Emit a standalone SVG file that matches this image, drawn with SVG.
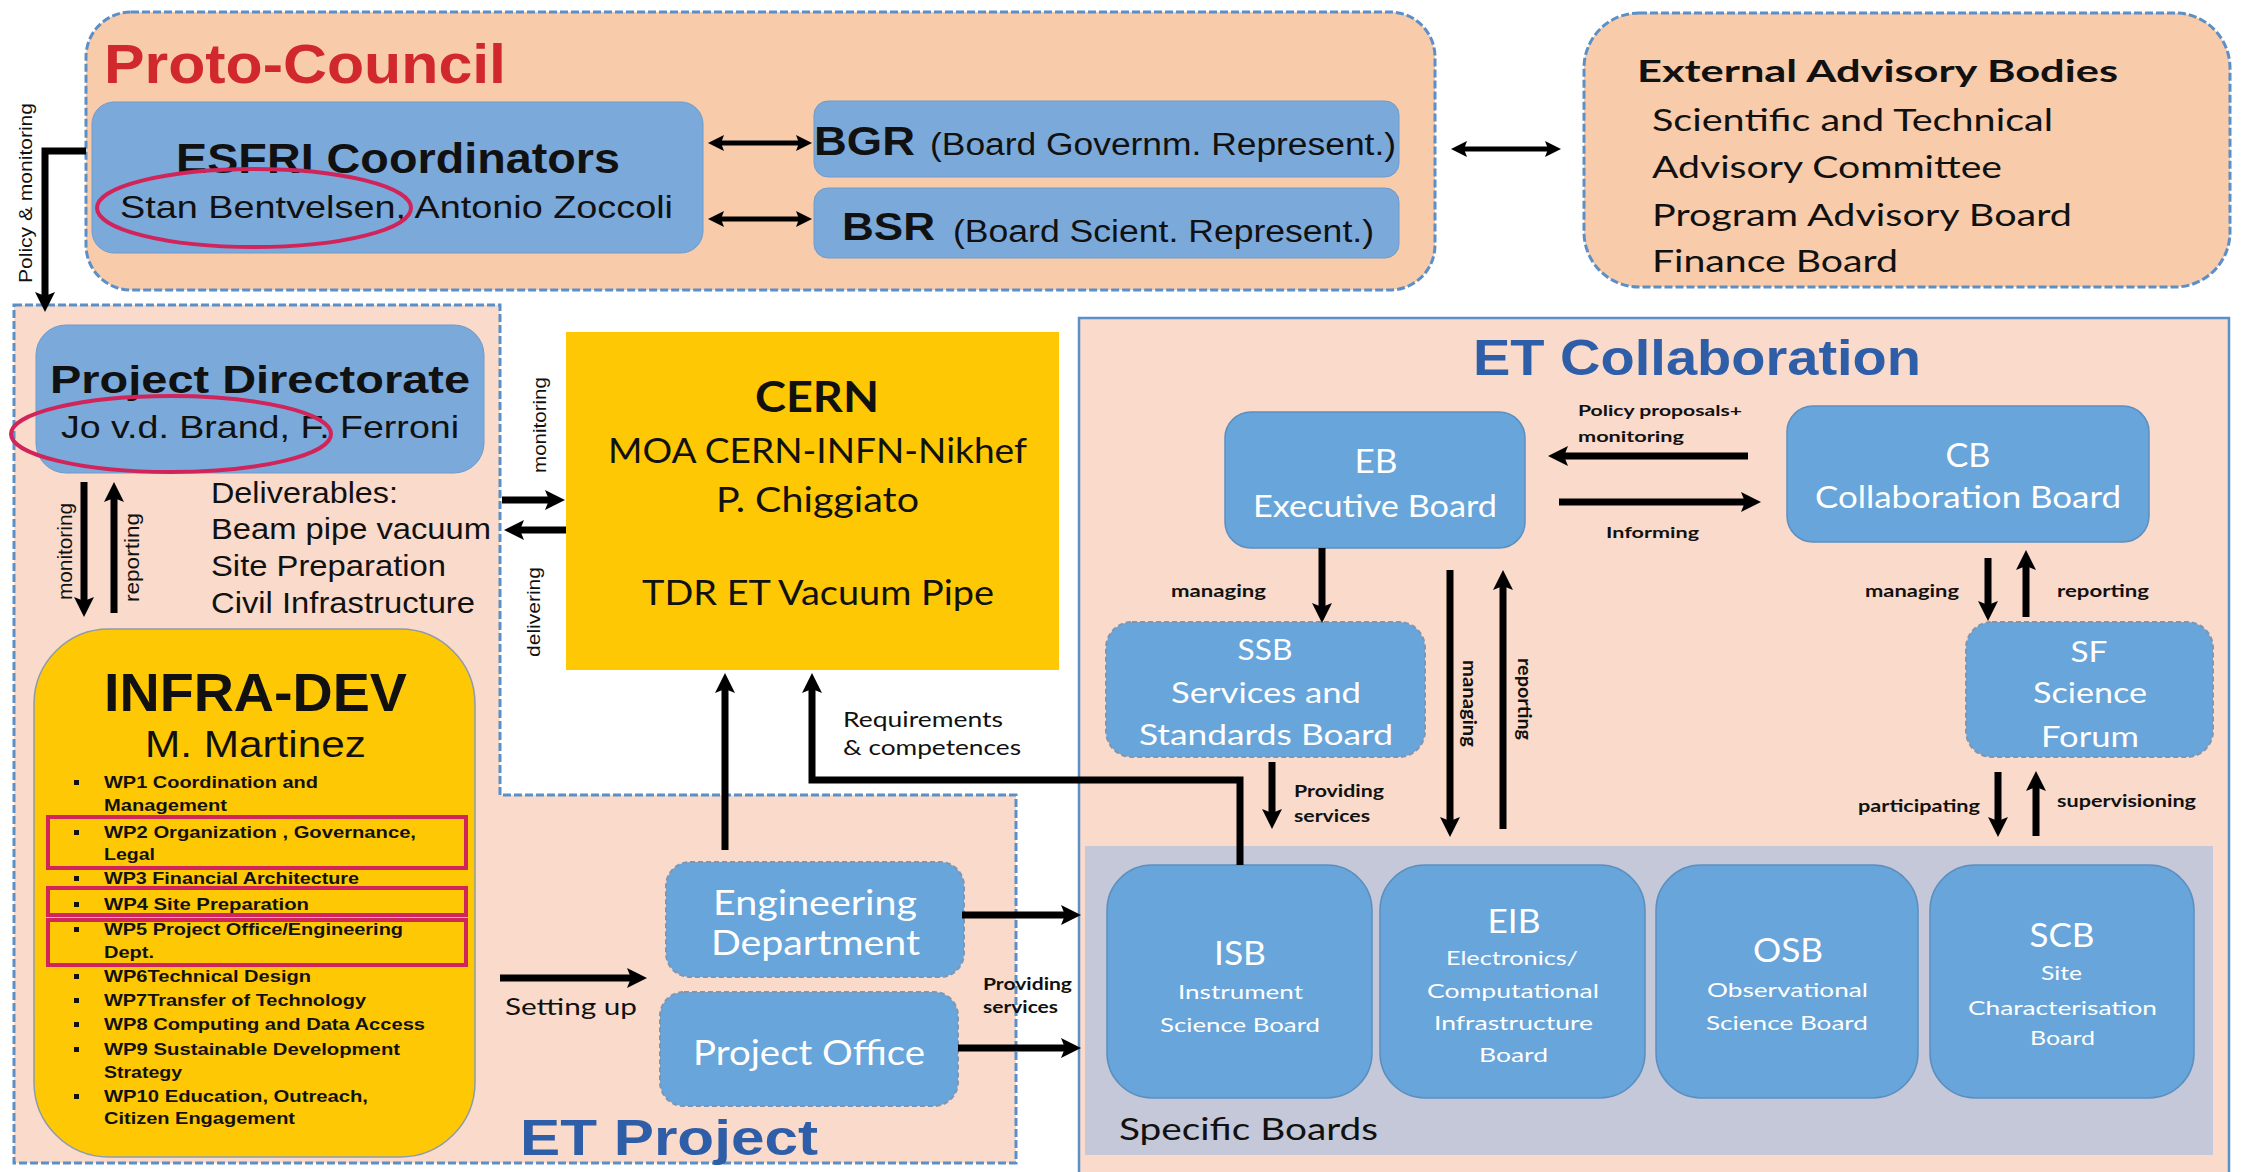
<svg xmlns="http://www.w3.org/2000/svg" width="2241" height="1172" viewBox="0 0 2241 1172">
<style>
.ar{font-family:"Liberation Sans",Arial,sans-serif}
.ca{font-family:Lato,"Open Sans","Liberation Sans",sans-serif}
.b{font-weight:700}
.w{fill:#ffffff}
.k{fill:#111111}
.mid{text-anchor:middle}
.cont{stroke:#5B8FC7;stroke-width:3;stroke-dasharray:8 3}
.box1{fill:#7BA9DA;stroke:#6E9BCB;stroke-width:1}
.box2{fill:#68A5DA;stroke:#5C8FC0;stroke-width:1.5}
.box2d{fill:#68A5DA;stroke:#7F96B2;stroke-width:2;stroke-dasharray:5 3}
.ln{stroke:#000;fill:none;stroke-width:7}
.ln5{stroke:#000;fill:none;stroke-width:5}
.red{fill:none;stroke:#D1245B;stroke-width:4}
.ttl{fill:#2F5EA8}
</style>
<defs>
<marker id="ah" viewBox="0 0 20 20" refX="6" refY="10" markerWidth="20" markerHeight="20" markerUnits="userSpaceOnUse" orient="auto-start-reverse"><path d="M0,0 L20,10 L0,20 L4,10 z" fill="#000"/></marker>
<marker id="ahs" viewBox="0 0 16 16" refX="5" refY="8" markerWidth="16" markerHeight="16" markerUnits="userSpaceOnUse" orient="auto-start-reverse"><path d="M0,0 L16,8 L0,16 L3,8 z" fill="#000"/></marker>
</defs>
<rect width="2241" height="1172" fill="#ffffff"/>

<!-- containers -->
<g id="proto-council">
<rect x="86" y="12" width="1349" height="278" rx="45" fill="#F8CBAA" class="cont"/>
<text x="104" y="83" class="ar b" font-size="56" fill="#D0282C" textLength="402" lengthAdjust="spacingAndGlyphs">Proto-Council</text>
</g>
<g id="external-advisory">
<rect x="1584" y="13" width="646" height="274" rx="55" fill="#F8CBAA" class="cont"/>
<text x="1637" y="82" class="ca b k" font-size="30" textLength="481" lengthAdjust="spacingAndGlyphs">External Advisory Bodies</text>
<text x="1652" y="131" class="ca k" font-size="30" textLength="401" lengthAdjust="spacingAndGlyphs">Scientific and Technical</text>
<text x="1652" y="178" class="ca k" font-size="30" textLength="350" lengthAdjust="spacingAndGlyphs">Advisory Committee</text>
<text x="1652" y="226" class="ca k" font-size="30" textLength="420" lengthAdjust="spacingAndGlyphs">Program Advisory Board</text>
<text x="1652" y="272" class="ca k" font-size="30" textLength="246" lengthAdjust="spacingAndGlyphs">Finance Board</text>
</g>
<g id="et-project">
<path d="M14,305 H500 V795 H1016 V1163 H14 Z" fill="#F9DACB" class="cont"/>
<text x="520" y="1155" class="ar b ttl" font-size="50" textLength="298" lengthAdjust="spacingAndGlyphs">ET Project</text>
</g>
<g id="et-collaboration">
<rect x="1079" y="318" width="1150" height="870" fill="#F9DACB" stroke="#5B8FC7" stroke-width="2.5"/>
<text x="1473" y="375" class="ar b ttl" font-size="50" textLength="448" lengthAdjust="spacingAndGlyphs">ET Collaboration</text>
</g>
<g id="specific-boards">
<rect x="1085" y="846" width="1128" height="309" fill="#C4C8D8"/>
<text x="1119" y="1140" class="ca k" font-size="30" textLength="259" lengthAdjust="spacingAndGlyphs">Specific Boards</text>
</g>

<!-- nodes -->
<g id="esfri">
<rect x="92" y="102" width="611" height="151" rx="22" class="box1"/>
<text x="398" y="173" class="ar b k mid" font-size="42" textLength="444" lengthAdjust="spacingAndGlyphs">ESFRI Coordinators</text>
<text x="120" y="218" class="ar k" font-size="32" textLength="553" lengthAdjust="spacingAndGlyphs">Stan Bentvelsen, Antonio Zoccoli</text>
</g>
<g id="bgr">
<rect x="814" y="101" width="585" height="76" rx="14" class="box1"/>
<text x="814" y="155" class="ar b k" font-size="40" textLength="101" lengthAdjust="spacingAndGlyphs">BGR</text>
<text x="930" y="155" class="ar k" font-size="31" textLength="466" lengthAdjust="spacingAndGlyphs">(Board Governm. Represent.)</text>
</g>
<g id="bsr">
<rect x="814" y="188" width="585" height="70" rx="14" class="box1"/>
<text x="842" y="240" class="ar b k" font-size="38" textLength="93" lengthAdjust="spacingAndGlyphs">BSR</text>
<text x="953" y="242" class="ar k" font-size="31" textLength="421" lengthAdjust="spacingAndGlyphs">(Board Scient. Represent.)</text>
</g>
<g id="project-directorate">
<rect x="36" y="325" width="448" height="148" rx="30" class="box1"/>
<text x="50" y="393" class="ar b k" font-size="39" textLength="420" lengthAdjust="spacingAndGlyphs">Project Directorate</text>
<text x="61" y="438" class="ar k" font-size="32" textLength="398" lengthAdjust="spacingAndGlyphs">Jo v.d. Brand, F. Ferroni</text>
</g>
<g id="deliverables">
<text x="211" y="503" class="ar k" font-size="30" textLength="187" lengthAdjust="spacingAndGlyphs">Deliverables:</text>
<text x="211" y="539" class="ar k" font-size="30" textLength="280" lengthAdjust="spacingAndGlyphs">Beam pipe vacuum</text>
<text x="211" y="576" class="ar k" font-size="30" textLength="235" lengthAdjust="spacingAndGlyphs">Site Preparation</text>
<text x="211" y="613" class="ar k" font-size="30" textLength="264" lengthAdjust="spacingAndGlyphs">Civil Infrastructure</text>
</g>
<g id="infra-dev">
<rect x="34" y="629" width="441" height="528" rx="75" fill="#FFC805" stroke="#8E9BAA" stroke-width="1.5"/>
<text x="104" y="711" class="ar b k" font-size="54" textLength="303" lengthAdjust="spacingAndGlyphs">INFRA-DEV</text>
<text x="145" y="757" class="ar k" font-size="37" textLength="221" lengthAdjust="spacingAndGlyphs">M. Martinez</text>
<g class="ar b k" font-size="17">
<text x="104" y="788" textLength="214" lengthAdjust="spacingAndGlyphs">WP1 Coordination and</text>
<text x="104" y="811" textLength="123" lengthAdjust="spacingAndGlyphs">Management</text>
<text x="104" y="838" textLength="312" lengthAdjust="spacingAndGlyphs">WP2 Organization , Governance,</text>
<text x="104" y="860" textLength="51" lengthAdjust="spacingAndGlyphs">Legal</text>
<text x="104" y="884" textLength="255" lengthAdjust="spacingAndGlyphs">WP3 Financial Architecture</text>
<text x="104" y="910" textLength="205" lengthAdjust="spacingAndGlyphs">WP4 Site Preparation</text>
<text x="104" y="935" textLength="299" lengthAdjust="spacingAndGlyphs">WP5 Project Office/Engineering</text>
<text x="104" y="958" textLength="50" lengthAdjust="spacingAndGlyphs">Dept.</text>
<text x="104" y="982" textLength="207" lengthAdjust="spacingAndGlyphs">WP6Technical Design</text>
<text x="104" y="1006" textLength="262" lengthAdjust="spacingAndGlyphs">WP7Transfer of Technology</text>
<text x="104" y="1030" textLength="321" lengthAdjust="spacingAndGlyphs">WP8 Computing and Data Access</text>
<text x="104" y="1055" textLength="296" lengthAdjust="spacingAndGlyphs">WP9 Sustainable Development</text>
<text x="104" y="1078" textLength="78" lengthAdjust="spacingAndGlyphs">Strategy</text>
<text x="104" y="1102" textLength="264" lengthAdjust="spacingAndGlyphs">WP10 Education, Outreach,</text>
<text x="104" y="1124" textLength="191" lengthAdjust="spacingAndGlyphs">Citizen Engagement</text>
</g>
<g fill="#111">
<rect x="74" y="780" width="5" height="5"/>
<rect x="74" y="830" width="5" height="5"/>
<rect x="74" y="876" width="5" height="5"/>
<rect x="74" y="902" width="5" height="5"/>
<rect x="74" y="927" width="5" height="5"/>
<rect x="74" y="974" width="5" height="5"/>
<rect x="74" y="998" width="5" height="5"/>
<rect x="74" y="1022" width="5" height="5"/>
<rect x="74" y="1047" width="5" height="5"/>
<rect x="74" y="1094" width="5" height="5"/>
</g>
</g>
<g id="cern">
<rect x="566" y="332" width="493" height="338" fill="#FFC805"/>
<text x="817" y="412" class="ca b k mid" font-size="42" textLength="124" lengthAdjust="spacingAndGlyphs">CERN</text>
<text x="608" y="463" class="ca k" font-size="35" textLength="419" lengthAdjust="spacingAndGlyphs">MOA CERN-INFN-Nikhef</text>
<text x="716" y="512" class="ca k" font-size="35" textLength="203" lengthAdjust="spacingAndGlyphs">P. Chiggiato</text>
<text x="642" y="605" class="ca k" font-size="35" textLength="352" lengthAdjust="spacingAndGlyphs">TDR ET Vacuum Pipe</text>
</g>
<g id="engineering-department">
<rect x="666" y="862" width="298" height="115" rx="24" class="box2d"/>
<text x="713" y="915" class="ca w" font-size="34" textLength="204" lengthAdjust="spacingAndGlyphs">Engineering</text>
<text x="711" y="955" class="ca w" font-size="34" textLength="209" lengthAdjust="spacingAndGlyphs">Department</text>
</g>
<g id="project-office">
<rect x="660" y="992" width="298" height="114" rx="24" class="box2d"/>
<text x="693" y="1065" class="ca w" font-size="34" textLength="232" lengthAdjust="spacingAndGlyphs">Project Office</text>
</g>
<g id="eb">
<rect x="1225" y="412" width="300" height="136" rx="26" class="box2"/>
<text x="1376" y="473" class="ca w mid" font-size="33" textLength="43" lengthAdjust="spacingAndGlyphs">EB</text>
<text x="1253" y="517" class="ca w" font-size="30" textLength="244" lengthAdjust="spacingAndGlyphs">Executive Board</text>
</g>
<g id="cb">
<rect x="1787" y="406" width="362" height="136" rx="26" class="box2"/>
<text x="1968" y="467" class="ca w mid" font-size="33" textLength="45" lengthAdjust="spacingAndGlyphs">CB</text>
<text x="1815" y="508" class="ca w" font-size="30" textLength="306" lengthAdjust="spacingAndGlyphs">Collaboration Board</text>
</g>
<g id="ssb">
<rect x="1106" y="622" width="319" height="135" rx="26" class="box2d"/>
<text x="1265" y="660" class="ca w mid" font-size="29" textLength="55" lengthAdjust="spacingAndGlyphs">SSB</text>
<text x="1171" y="703" class="ca w" font-size="29" textLength="190" lengthAdjust="spacingAndGlyphs">Services and</text>
<text x="1139" y="745" class="ca w" font-size="29" textLength="254" lengthAdjust="spacingAndGlyphs">Standards Board</text>
</g>
<g id="sf">
<rect x="1966" y="622" width="247" height="135" rx="26" class="box2d"/>
<text x="2089" y="662" class="ca w mid" font-size="29" textLength="37" lengthAdjust="spacingAndGlyphs">SF</text>
<text x="2033" y="703" class="ca w" font-size="29" textLength="114" lengthAdjust="spacingAndGlyphs">Science</text>
<text x="2041" y="747" class="ca w" font-size="29" textLength="98" lengthAdjust="spacingAndGlyphs">Forum</text>
</g>
<g id="isb">
<rect x="1107" y="865" width="265" height="233" rx="45" class="box2"/>
<text x="1240" y="965" class="ca w mid" font-size="33" textLength="52" lengthAdjust="spacingAndGlyphs">ISB</text>
<text x="1178" y="999" class="ca w" font-size="20" textLength="125" lengthAdjust="spacingAndGlyphs">Instrument</text>
<text x="1160" y="1032" class="ca w" font-size="20" textLength="160" lengthAdjust="spacingAndGlyphs">Science Board</text>
</g>
<g id="eib">
<rect x="1380" y="865" width="265" height="233" rx="45" class="box2"/>
<text x="1514" y="933" class="ca w mid" font-size="33" textLength="53" lengthAdjust="spacingAndGlyphs">EIB</text>
<text x="1446" y="965" class="ca w" font-size="20" textLength="132" lengthAdjust="spacingAndGlyphs">Electronics/</text>
<text x="1427" y="998" class="ca w" font-size="20" textLength="172" lengthAdjust="spacingAndGlyphs">Computational</text>
<text x="1434" y="1030" class="ca w" font-size="20" textLength="159" lengthAdjust="spacingAndGlyphs">Infrastructure</text>
<text x="1479" y="1062" class="ca w" font-size="20" textLength="69" lengthAdjust="spacingAndGlyphs">Board</text>
</g>
<g id="osb">
<rect x="1656" y="865" width="262" height="233" rx="45" class="box2"/>
<text x="1788" y="962" class="ca w mid" font-size="33" textLength="70" lengthAdjust="spacingAndGlyphs">OSB</text>
<text x="1707" y="997" class="ca w" font-size="20" textLength="161" lengthAdjust="spacingAndGlyphs">Observational</text>
<text x="1706" y="1030" class="ca w" font-size="20" textLength="162" lengthAdjust="spacingAndGlyphs">Science Board</text>
</g>
<g id="scb">
<rect x="1930" y="865" width="264" height="233" rx="45" class="box2"/>
<text x="2062" y="947" class="ca w mid" font-size="33" textLength="65" lengthAdjust="spacingAndGlyphs">SCB</text>
<text x="2041" y="980" class="ca w" font-size="20" textLength="41" lengthAdjust="spacingAndGlyphs">Site</text>
<text x="1968" y="1015" class="ca w" font-size="20" textLength="189" lengthAdjust="spacingAndGlyphs">Characterisation</text>
<text x="2030" y="1045" class="ca w" font-size="20" textLength="65" lengthAdjust="spacingAndGlyphs">Board</text>
</g>

<!-- connectors -->
<g id="connectors">
<line x1="719" y1="143" x2="801" y2="143" class="ln5" marker-start="url(#ahs)" marker-end="url(#ahs)"/>
<line x1="719" y1="219" x2="801" y2="219" class="ln5" marker-start="url(#ahs)" marker-end="url(#ahs)"/>
<line x1="1462" y1="149" x2="1550" y2="149" class="ln5" marker-start="url(#ahs)" marker-end="url(#ahs)"/>
<path d="M86,151 H45 V298" class="ln" marker-end="url(#ah)"/>
<text x="32" y="283" transform="rotate(-90 32 283)" class="ar k" font-size="19" textLength="180" lengthAdjust="spacingAndGlyphs">Policy &amp; monitoring</text>
<line x1="84" y1="482" x2="84" y2="603" class="ln" marker-end="url(#ah)"/>
<line x1="114" y1="613" x2="114" y2="496" class="ln" marker-end="url(#ah)"/>
<text x="72" y="600" transform="rotate(-90 72 600)" class="ar k" font-size="20" textLength="97" lengthAdjust="spacingAndGlyphs">monitoring</text>
<text x="139" y="602" transform="rotate(-90 139 602)" class="ar k" font-size="20" textLength="89" lengthAdjust="spacingAndGlyphs">reporting</text>
<line x1="502" y1="500" x2="551" y2="500" class="ln" marker-end="url(#ah)"/>
<line x1="566" y1="530" x2="518" y2="530" class="ln" marker-end="url(#ah)"/>
<text x="546" y="473" transform="rotate(-90 546 473)" class="ar k" font-size="19" textLength="96" lengthAdjust="spacingAndGlyphs">monitoring</text>
<text x="540" y="657" transform="rotate(-90 540 657)" class="ar k" font-size="19" textLength="90" lengthAdjust="spacingAndGlyphs">delivering</text>
<line x1="725" y1="850" x2="725" y2="687" class="ln" marker-end="url(#ah)"/>
<path d="M1240,865 V780 H812 V687" class="ln" marker-end="url(#ah)"/>
<text x="843" y="727" class="ca k" font-size="21" textLength="160" lengthAdjust="spacingAndGlyphs">Requirements</text>
<text x="843" y="755" class="ca k" font-size="21" textLength="178" lengthAdjust="spacingAndGlyphs">&amp; competences</text>
<line x1="500" y1="978" x2="633" y2="978" class="ln" marker-end="url(#ah)"/>
<text x="505" y="1015" class="ca k" font-size="24" textLength="132" lengthAdjust="spacingAndGlyphs">Setting up</text>
<line x1="962" y1="915" x2="1067" y2="915" class="ln" marker-end="url(#ah)"/>
<line x1="958" y1="1048" x2="1067" y2="1048" class="ln" marker-end="url(#ah)"/>
<text x="983" y="990" class="ca b k" font-size="17" textLength="89" lengthAdjust="spacingAndGlyphs">Providing</text>
<text x="983" y="1013" class="ca b k" font-size="17" textLength="75" lengthAdjust="spacingAndGlyphs">services</text>
<line x1="1748" y1="456" x2="1562" y2="456" class="ln" marker-end="url(#ah)"/>
<line x1="1559" y1="502" x2="1747" y2="502" class="ln" marker-end="url(#ah)"/>
<text x="1578" y="416" class="ca b k" font-size="16" textLength="164" lengthAdjust="spacingAndGlyphs">Policy proposals+</text>
<text x="1578" y="442" class="ca b k" font-size="16" textLength="106" lengthAdjust="spacingAndGlyphs">monitoring</text>
<text x="1606" y="538" class="ca b k" font-size="16" textLength="93" lengthAdjust="spacingAndGlyphs">Informing</text>
<line x1="1322" y1="548" x2="1322" y2="609" class="ln" marker-end="url(#ah)"/>
<text x="1171" y="597" class="ca b k" font-size="17" textLength="95" lengthAdjust="spacingAndGlyphs">managing</text>
<line x1="1450" y1="570" x2="1450" y2="823" class="ln" marker-end="url(#ah)"/>
<line x1="1503" y1="829" x2="1503" y2="584" class="ln" marker-end="url(#ah)"/>
<text x="1463" y="660" transform="rotate(90 1463 660)" class="ca b k" font-size="18" textLength="87" lengthAdjust="spacingAndGlyphs">managing</text>
<text x="1518" y="658" transform="rotate(90 1518 658)" class="ca b k" font-size="18" textLength="82" lengthAdjust="spacingAndGlyphs">reporting</text>
<line x1="1272" y1="762" x2="1272" y2="815" class="ln" marker-end="url(#ah)"/>
<text x="1294" y="797" class="ca b k" font-size="17" textLength="90" lengthAdjust="spacingAndGlyphs">Providing</text>
<text x="1294" y="822" class="ca b k" font-size="17" textLength="76" lengthAdjust="spacingAndGlyphs">services</text>
<line x1="1988" y1="558" x2="1988" y2="607" class="ln" marker-end="url(#ah)"/>
<line x1="2026" y1="617" x2="2026" y2="564" class="ln" marker-end="url(#ah)"/>
<text x="1865" y="597" class="ca b k" font-size="17" textLength="94" lengthAdjust="spacingAndGlyphs">managing</text>
<text x="2057" y="597" class="ca b k" font-size="17" textLength="92" lengthAdjust="spacingAndGlyphs">reporting</text>
<line x1="1998" y1="772" x2="1998" y2="823" class="ln" marker-end="url(#ah)"/>
<line x1="2036" y1="836" x2="2036" y2="785" class="ln" marker-end="url(#ah)"/>
<text x="1858" y="812" class="ca b k" font-size="17" textLength="122" lengthAdjust="spacingAndGlyphs">participating</text>
<text x="2057" y="807" class="ca b k" font-size="17" textLength="139" lengthAdjust="spacingAndGlyphs">supervisioning</text>
</g>

<!-- annotations -->
<g id="highlights">
<ellipse cx="254" cy="208" rx="157" ry="39" class="red" stroke-width="5"/>
<ellipse cx="171" cy="434" rx="160" ry="38" class="red" stroke-width="5"/>
<rect x="48" y="817" width="418" height="51" class="red"/>
<rect x="48" y="888" width="418" height="27" class="red"/>
<rect x="48" y="920" width="418" height="45" class="red"/>
</g>
</svg>
